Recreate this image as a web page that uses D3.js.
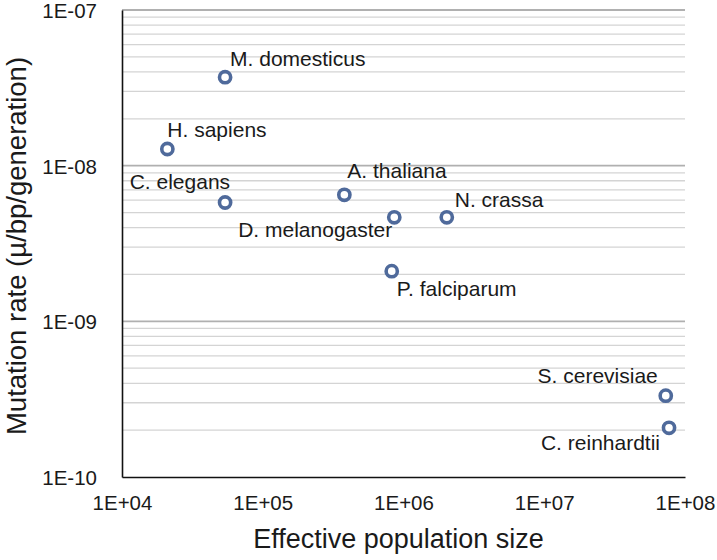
<!DOCTYPE html>
<html><head><meta charset="utf-8">
<script src="https://cdn.jsdelivr.net/npm/d3@7"></script>
<style>
html,body{margin:0;padding:0;background:#fff;}
text{font-family:"Liberation Sans",Arial,Helvetica,sans-serif;fill:#1a1a1a;}
</style></head>
<body><svg id="c" width="717" height="560"></svg>
<script>
const species = ["M. domesticus","H. sapiens","C. elegans","A. thaliana","D. melanogaster","N. crassa","P. falciparum","S. cerevisiae","C. reinhardtii"];
const popSize = [5.4e4, 2.1e4, 5.4e4, 3.8e5, 8.6e5, 2.03e6, 8.25e5, 7.3e7, 7.7e7];
const mutRate = [3.7e-8, 1.28e-8, 5.8e-9, 6.5e-9, 4.66e-9, 4.66e-9, 2.1e-9, 3.33e-10, 2.07e-10];
// label placement: [dx, dy, anchor]
const labelPlace = [[5,-11,"start"],[0,-12,"start"],[5,-13,"end"],[3,-17,"start"],[-2,20,"end"],[8,-10,"start"],[5,25,"start"],[-8,-13,"end"],[-9,22,"end"]];
const xTicks = [1e4,1e5,1e6,1e7,1e8];
const xTickLabels = ["1E+04","1E+05","1E+06","1E+07","1E+08"];
const yTicks = [1e-10,1e-9,1e-8,1e-7];
const yTickLabels = ["1E-10","1E-09","1E-08","1E-07"];

const svg = d3.select("#c");
const L=122, R=685, T=10, B=477;
const x = d3.scaleLog().domain([1e4,1e8]).range([L,R]);
const y = d3.scaleLog().domain([1e-10,1e-7]).range([B,T]);

// minor gridlines
const minor = [];
for (let e=-10;e<-7;e++) for (let m=2;m<=9;m++) minor.push(m*Math.pow(10,e));
svg.append("g").selectAll("line").data(minor).join("line")
  .attr("x1",L).attr("x2",R).attr("y1",d=>y(d)).attr("y2",d=>y(d))
  .attr("stroke","#d4d4d4").attr("stroke-width",1.3);
svg.append("g").selectAll("line").data(yTicks.slice(1)).join("line")
  .attr("x1",L).attr("x2",R).attr("y1",d=>y(d)).attr("y2",d=>y(d))
  .attr("stroke","#b0b0b0").attr("stroke-width",1.8);

// axes
const xAxis = d3.axisBottom(x).tickValues(xTicks).tickFormat((d,i)=>xTickLabels[i]).tickSize(0).tickPadding(18);
const gx = svg.append("g").attr("transform",`translate(0,${B})`).call(xAxis);
gx.select(".domain").attr("stroke","#111").attr("stroke-width",1.6);
gx.selectAll("text").attr("font-size","20.5px").attr("fill","#1a1a1a").attr("font-family","Liberation Sans, Arial, sans-serif");

const yAxis = d3.axisLeft(y).tickValues(yTicks).tickFormat((d,i)=>yTickLabels[i]).tickSize(0).tickPadding(25);
const gy = svg.append("g").attr("transform",`translate(${L},0)`).call(yAxis);
gy.select(".domain").attr("stroke","#111").attr("stroke-width",1.6);
gy.selectAll("text").attr("font-size","20.5px").attr("fill","#1a1a1a").attr("font-family","Liberation Sans, Arial, sans-serif").attr("dy","0.36em");

// titles
svg.append("text").attr("x",(L+R)/2-5).attr("y",548).attr("text-anchor","middle")
  .attr("font-size","27px").text("Effective population size");
svg.append("text").attr("transform",`translate(26,246) rotate(-90)`).attr("text-anchor","middle")
  .attr("font-size","27.5px").text("Mutation rate (µ/bp/generation)");

// points
const pts = species.map((s,i)=>({s, n:popSize[i], m:mutRate[i], p:labelPlace[i]}));
svg.append("g").selectAll("circle").data(pts).join("circle")
  .attr("cx",d=>x(d.n)).attr("cy",d=>y(d.m)).attr("r",5.6)
  .attr("fill","#fff").attr("stroke","#4f6a9b").attr("stroke-width",3.6);
svg.append("g").selectAll("text").data(pts).join("text")
  .attr("x",d=>x(d.n)+d.p[0]).attr("y",d=>y(d.m)+d.p[1]).attr("text-anchor",d=>d.p[2])
  .attr("font-size","21px").text(d=>d.s);
</script></body></html>
